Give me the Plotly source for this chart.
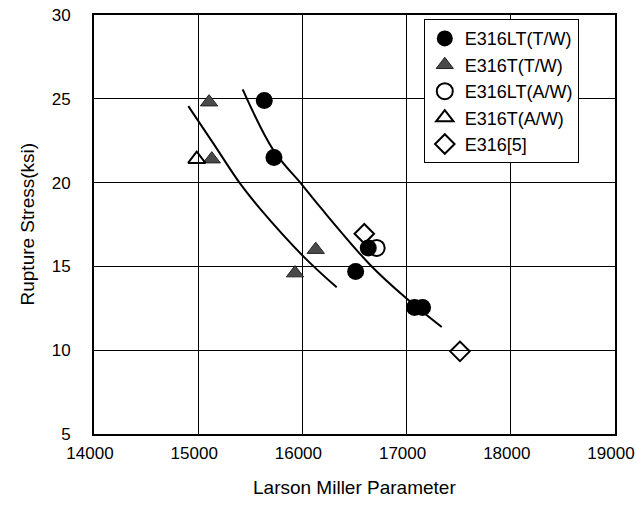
import plotly.graph_objects as go

# Data
lt_tw_x = [15634, 15727, 16511, 16632, 17076, 17153]
lt_tw_y = [24.9, 21.5, 14.7, 16.1, 12.55, 12.55]

t_tw_x = [15104, 15130, 16128, 15929]
t_tw_y = [24.8, 21.4, 16.0, 14.6]

lt_aw_x = [16713]
lt_aw_y = [16.1]

t_aw_x = [14986]
t_aw_y = [21.4]

e316_x = [16594, 17512]
e316_y = [16.95, 9.93]

# trend curves
curve1_x = [14905, 15145, 15401, 15593, 16009, 16329]
curve1_y = [24.56, 22.34, 19.95, 18.45, 15.6, 13.75]
curve2_x = [15427, 15721, 15993, 16169, 16649, 17000, 17337]
curve2_y = [25.56, 21.94, 19.9, 18.55, 15.1, 13.08, 11.38]

x_ticks = [14000, 15000, 16000, 17000, 18000, 19000]
y_ticks = [5, 10, 15, 20, 25, 30]

x_title = "Larson Miller Parameter"
y_title = "Rupture Stress(ksi)"

fig = go.Figure()

fig.add_trace(go.Scatter(x=curve1_x, y=curve1_y, mode="lines", line=dict(color="black", width=2, shape="spline"),
                         showlegend=False, hoverinfo="skip"))
fig.add_trace(go.Scatter(x=curve2_x, y=curve2_y, mode="lines", line=dict(color="black", width=2, shape="spline"),
                         showlegend=False, hoverinfo="skip"))

fig.add_trace(go.Scatter(x=lt_tw_x, y=lt_tw_y, mode="markers", name="E316LT(T/W)",
                         marker=dict(symbol="circle", size=17, color="black")))
fig.add_trace(go.Scatter(x=t_tw_x, y=t_tw_y, mode="markers", name="E316T(T/W)",
                         marker=dict(symbol="triangle-up", size=15, color="#4a4a4a",
                                     line=dict(color="#222222", width=1))))
fig.add_trace(go.Scatter(x=lt_aw_x, y=lt_aw_y, mode="markers", name="E316LT(A/W)",
                         marker=dict(symbol="circle-open", size=16, color="black", line=dict(width=2))))
fig.add_trace(go.Scatter(x=t_aw_x, y=t_aw_y, mode="markers", name="E316T(A/W)",
                         marker=dict(symbol="triangle-up-open", size=15, color="black", line=dict(width=2))))
fig.add_trace(go.Scatter(x=e316_x, y=e316_y, mode="markers", name="E316[5]",
                         marker=dict(symbol="diamond-open", size=15, color="black", line=dict(width=2))))

font_family = "Liberation Sans, Arial, sans-serif"

fig.update_layout(
    width=636, height=506,
    margin=dict(l=94, r=21, t=15, b=72, autoexpand=False),
    paper_bgcolor="white", plot_bgcolor="white",
    font=dict(family=font_family, size=17, color="black"),
    xaxis=dict(range=[14000, 19000], tickvals=x_ticks, ticktext=[str(v) for v in x_ticks],
               showgrid=True, gridcolor="black", gridwidth=1,
               showline=True, linecolor="black", linewidth=2, mirror=True,
               ticks="", zeroline=False, automargin=False,
               ticklabelstandoff=3, ticklabelshift=-4, ticklabeloverflow="allow",
               tickfont=dict(size=17)),
    yaxis=dict(range=[5, 30], tickvals=y_ticks, ticktext=[str(v) for v in y_ticks],
               showgrid=True, gridcolor="black", gridwidth=1,
               showline=True, linecolor="black", linewidth=2, mirror=True,
               ticks="", zeroline=False, automargin=False,
               ticklabelstandoff=18, ticklabeloverflow="allow",
               tickfont=dict(size=17)),
    legend=dict(x=0.633, y=0.99, xanchor="left", yanchor="top",
                bgcolor="white", bordercolor="black", borderwidth=1,
                font=dict(size=18), itemsizing="trace", itemwidth=30,
                tracegroupgap=0),
    annotations=[
        dict(text=x_title, xref="paper", yref="paper", x=0.5, y=0, yshift=-53,
             showarrow=False, xanchor="center", yanchor="middle", font=dict(size=19)),
        dict(text=y_title, xref="paper", yref="paper", x=0, y=0.5, xshift=-67,
             showarrow=False, xanchor="center", yanchor="middle", textangle=-90, font=dict(size=19)),
    ],
)

# remove the default 8px page margin so the 636x506 figure fills the window exactly
fig.write_html("out.html",
               config={"displayModeBar": False},
               post_script="document.body.style.margin='0';document.body.style.overflow='hidden';")
